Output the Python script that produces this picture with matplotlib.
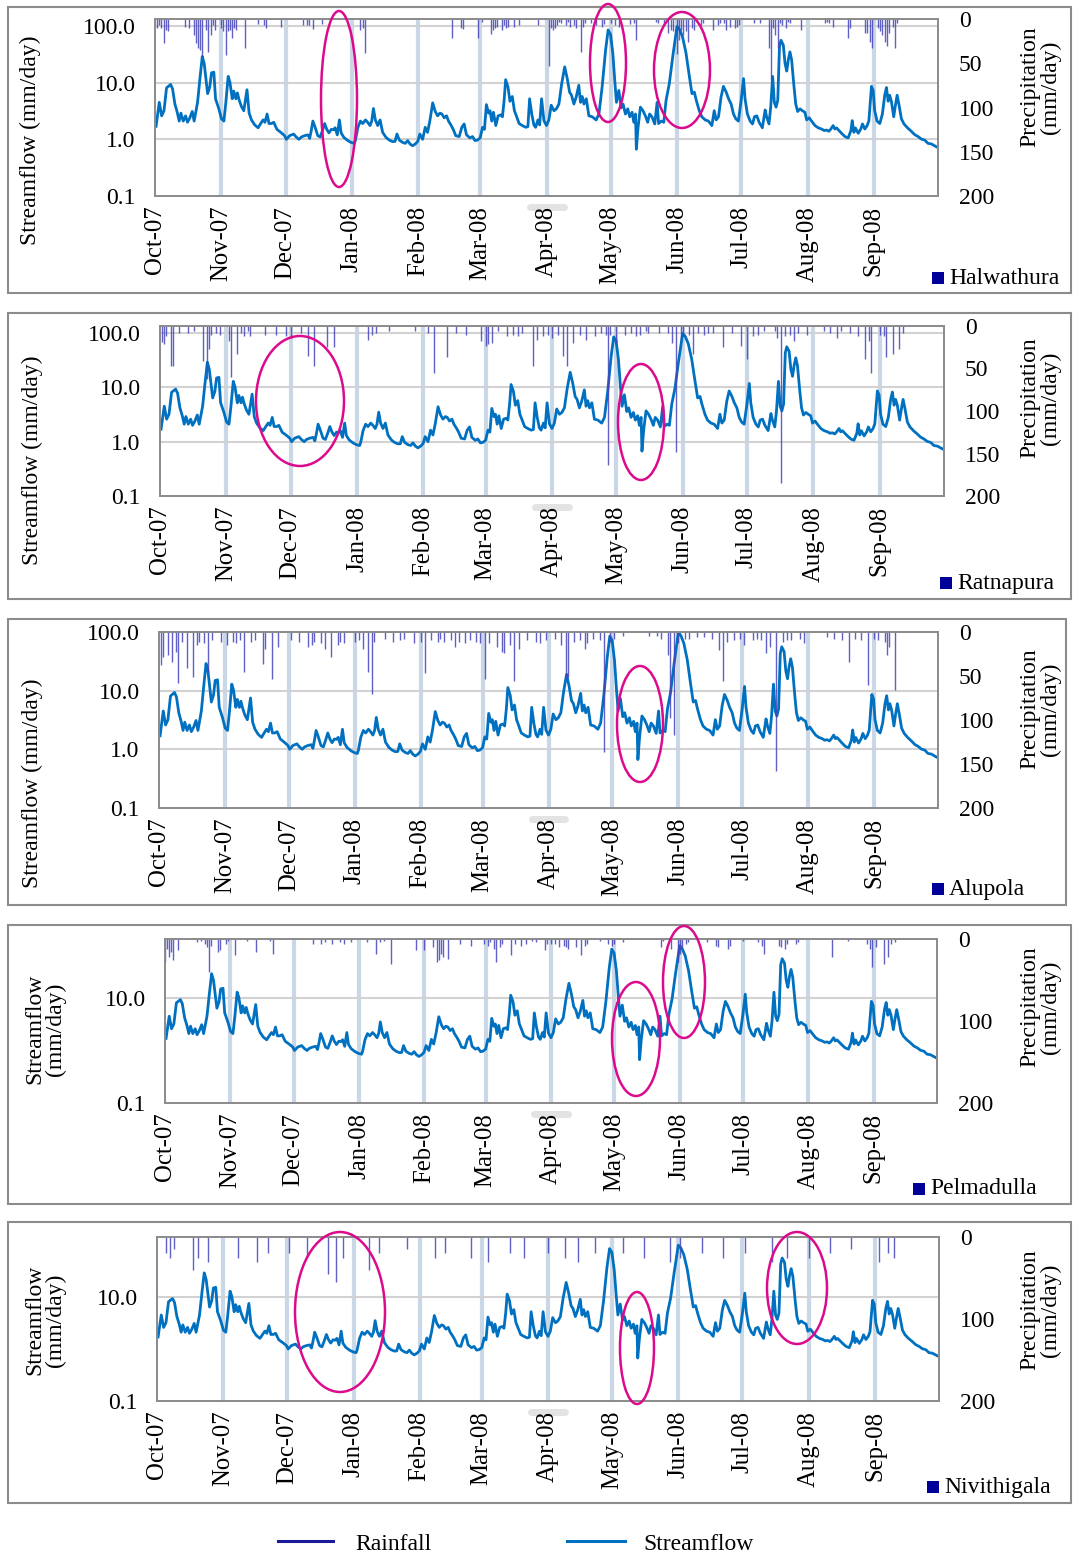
import numpy as np
import matplotlib
matplotlib.use('Agg')
import matplotlib.pyplot as plt
from matplotlib.patches import Ellipse, Rectangle
from matplotlib.lines import Line2D

plt.rcParams['font.family'] = ['Liberation Serif', 'DejaVu Serif']

W, H = 1073, 1559

# x axis: days since 1 Oct 2007
month_labels = ['Oct-07', 'Nov-07', 'Dec-07', 'Jan-08', 'Feb-08', 'Mar-08',
                'Apr-08', 'May-08', 'Jun-08', 'Jul-08', 'Aug-08', 'Sep-08']
month_start = [0, 31, 61, 92, 123, 152, 183, 213, 244, 274, 305, 336]

# daily streamflow (mm/day)
flow_day = [0.5, 2.0, 3.1, 4.2, 5.4, 7.3, 8.2, 9.3, 10.4, 11.3, 12.1, 13.2, 14.3, 15.2, 16.3, 17.4, 18.3,
            19.9, 21.0, 22.1, 23.0, 23.8, 24.6, 25.6, 26.4, 27.5, 28.3, 29.8, 31.1, 32.2, 33.1, 34.2, 35.0,
            36.1, 36.8, 37.8, 38.5, 39.3, 40.4, 41.5, 43.0, 44.0, 45.1, 46.6, 48.2, 49.4, 50.5, 51.4, 52.4,
            53.3, 54.4, 55.5, 57.0, 59.1, 60.6, 61.4, 62.9, 64.8, 66.0, 67.3, 68.4, 69.9, 71.5, 72.3, 73.0,
            73.8, 74.7, 76.1, 77.2, 78.2, 79.3, 80.3, 81.3, 82.4, 83.4, 84.2, 85.2, 86.2, 87.0, 88.3, 90.1,
            91.7, 93.2, 93.7, 94.8, 96.0, 97.1, 98.4, 99.4, 100.5, 101.3, 102.1, 103.0, 104.1, 105.2, 106.4,
            108.0, 109.5, 111.1, 112.2, 113.1, 114.2, 115.8, 117.0, 118.1, 119.2, 120.4, 121.7, 122.8, 123.8,
            125.1, 126.3, 127.4, 128.5, 129.8, 131.0, 132.1, 133.2, 134.1, 135.2, 136.3, 137.2, 138.3, 139.4,
            140.6, 142.2, 143.4, 144.5, 145.6, 147.2, 148.4, 149.6, 150.7, 152.0, 153.1, 154.0, 154.9, 155.9,
            156.6, 157.4, 158.2, 159.3, 160.4, 161.6, 162.4, 163.2, 163.9, 165.0, 165.9, 167.0, 168.0, 168.9,
            170.2, 171.7, 173.3, 174.3, 175.1, 176.1, 177.1, 177.9, 179.0, 179.8, 180.7, 181.8, 183.0, 184.1,
            185.2, 186.5, 187.6, 188.8, 190.1, 191.5, 192.7, 193.8, 194.7, 195.8, 196.9, 198.1, 198.9, 199.7,
            200.5, 201.6, 202.8, 204.4, 206.2, 207.5, 209.0, 210.6, 211.8, 212.9, 214.0, 214.9, 215.7, 216.8,
            217.9, 218.8, 219.9, 221.0, 221.9, 223.0, 223.8, 224.6, 225.0, 225.8, 226.9, 228.1, 229.2, 230.3,
            231.2, 232.3, 233.6, 234.7, 235.4, 236.7, 237.8, 238.9, 240.4, 242.0, 244.0, 245.2, 246.6, 248.2,
            249.7, 251.0, 252.1, 253.0, 254.4, 255.6, 257.2, 258.7, 260.3, 261.4, 262.3, 263.4, 264.6, 265.7,
            267.0, 268.1, 269.3, 270.4, 271.5, 272.7, 274.0, 275.1, 275.8, 276.9, 278.2, 279.3, 280.2, 281.3,
            282.4, 283.9, 285.2, 285.9, 287.0, 287.8, 288.7, 289.5, 290.3, 291.1, 291.9, 292.6, 293.7, 294.5,
            295.3, 296.0, 296.8, 297.6, 298.7, 299.5, 300.4, 301.5, 302.6, 303.8, 304.6, 305.8, 306.9, 308.5,
            310.0, 311.6, 312.8, 313.9, 315.0, 315.9, 317.0, 317.8, 318.6, 319.7, 320.9, 322.5, 324.0, 325.3,
            325.9, 326.7, 327.4, 328.7, 329.9, 330.7, 331.8, 332.9, 333.7, 334.9, 335.7, 336.4, 337.5, 338.8,
            340.0, 341.1, 341.9, 342.7, 343.4, 344.2, 345.3, 346.1, 346.9, 347.8, 348.9, 350.1, 351.7, 353.5,
            355.1, 356.7, 358.2, 359.8, 361.3, 362.9, 365.2]
flow_val = [1.7, 4.5, 2.6, 3.2, 8.1, 9.3, 7.8, 4.2, 3.0, 2.1, 2.9, 2.1, 2.6, 2.0, 2.4, 3.1, 2.1,
            4.5, 11.8, 29, 21.7, 11.8, 6.4, 8.4, 14.9, 15.3, 5.2, 3.5, 2.3, 2.1, 4.4, 12.9, 10.3,
            5.2, 7.1, 5.2, 6.6, 5.0, 3.8, 3.2, 7.5, 2.9, 2.2, 1.8, 1.6, 1.9, 2.2, 2.0, 2.8,
            1.9, 1.9, 2.0, 1.5, 1.3, 1.16, 1.0, 1.16, 1.24, 1.1, 1.0, 1.1, 1.16, 1.2, 1.04, 1.4,
            2.1, 1.7, 1.16, 1.1, 1.4, 1.9, 1.5, 1.3, 1.5, 1.48, 1.6, 1.2, 2.2, 1.3, 1.08, 0.95,
            0.88, 0.85, 0.97, 1.6, 2.1, 1.9, 2.2, 2.0, 1.75, 2.1, 3.5, 2.2, 1.75, 2.2, 1.33,
            1.08, 0.97, 0.91, 0.92, 1.24, 0.97, 0.88, 0.85, 0.95, 0.83, 0.77, 0.83, 0.92, 1.24,
            1.0, 1.63, 1.33, 2.14, 4.4, 3.1, 2.6, 2.9, 2.8, 2.4, 2.6, 2.1, 1.8, 1.5,
            1.16, 1.12, 1.63, 1.87, 1.2, 1.06, 1.12, 0.95, 0.97, 1.06, 1.63, 1.5, 4.1, 2.9,
            3.2, 2.1, 3.0, 1.75, 2.6, 2.7, 2.5, 4.9, 11.3, 8.4, 4.7, 5.7, 3.2, 2.6,
            1.9, 1.75, 1.63, 1.68, 5.2, 2.8, 1.8, 1.63, 2.2, 1.8, 5.2, 2.14, 1.75, 2.2,
            4.0, 3.2, 3.45, 4.2, 9.6, 19, 11.8, 6.8, 6.0, 4.2, 5.6, 9.0, 4.5, 5.7,
            4.2, 5.2, 2.6, 2.5, 2.2, 2.8, 8.4, 37, 85, 72, 33, 11, 4.5, 7.3,
            3.6, 4.2, 2.8, 3.45, 2.5, 3.0, 2.0, 2.8, 0.67, 1.63, 3.7, 3.2, 2.6, 2.0,
            2.8, 2.5, 1.87, 4.5, 1.9, 2.1, 2.0, 4.9, 9.6, 28.6, 99, 87, 64, 33.5,
            13.5, 6.4, 6.8, 4.9, 3.2, 2.5, 2.2, 2.1, 1.75, 3.2, 2.2, 2.5, 5.6, 8.6,
            6.8, 5.2, 4.2, 2.8, 2.3, 2.1, 4.9, 11.8, 5.2, 2.8, 2.1, 1.87, 2.5, 2.6,
            2.0, 1.6, 3.3, 2.5, 1.87, 3.7, 12.9, 4.5, 3.7, 4.9, 43, 56, 46, 21.7,
            16, 25, 35, 25, 8.4, 4.2, 3.1, 3.45, 3.2, 3.0, 2.2, 2.4, 2.1, 1.75,
            1.6, 1.52, 1.43, 1.46, 1.39, 1.52, 1.75, 1.52, 1.59, 1.43, 1.28, 1.12, 1.06, 1.43,
            2.14, 1.33, 1.59, 1.28, 1.52, 1.87, 1.52, 1.75, 2.14, 8.6, 7.3, 3.2, 2.1, 1.9,
            2.8, 6.0, 8.2, 4.7, 6.0, 4.7, 2.5, 4.0, 6.0, 4.0, 2.3, 1.87, 1.6, 1.39,
            1.21, 1.12, 1.01, 0.97, 0.85, 0.83, 0.74]

stations = ['Halwathura', 'Ratnapura', 'Alupola', 'Pelmadulla', 'Nivithigala']

# daily rainfall (mm/day) per station
rain_day_halwathura = [1, 2, 3, 4, 5, 6, 14, 16, 18, 19, 20, 21, 22, 24, 25, 26, 27, 28, 31, 32, 33, 34,
                       35, 36, 37, 38, 42, 48, 51, 52, 59, 69, 71, 72, 74, 78, 96, 97, 98, 139, 143, 144,
                       151, 153, 157, 158, 159, 160, 162, 163, 164, 165, 168, 170, 179, 184, 185, 186,
                       187, 188, 189, 190, 192, 193, 194, 196, 197, 199, 200, 201, 204, 206, 209, 210,
                       213, 215, 217, 222, 224, 225, 234, 235, 238, 240, 241, 242, 244, 245, 246, 247,
                       248, 249, 251, 252, 255, 256, 261, 263, 264, 266, 267, 269, 271, 272, 273, 280,
                       283, 287, 288, 289, 290, 291, 292, 293, 295, 296, 297, 302, 313, 314, 315, 317,
                       324, 325, 332, 333, 334, 335, 338, 339, 340, 341, 342, 343, 345, 346, 347]
rain_mm_halwathura = [10, 7, 10, 27, 12, 14, 9, 10, 18, 27, 33, 35, 42, 12, 37, 18, 7, 12, 10, 14, 41, 14,
                      12, 22, 10, 12, 33, 6, 7, 10, 9, 7, 7, 7, 11, 6, 12, 10, 38, 21, 10, 11,
                      21, 3, 17, 12, 10, 9, 12, 7, 10, 9, 9, 7, 7, 53, 10, 12,
                      10, 7, 3, 5, 7, 3, 9, 7, 10, 37, 9, 5, 5, 7, 9, 6,
                      5, 7, 9, 6, 5, 24, 3, 5, 7, 16, 12, 14, 39, 24, 12, 18,
                      14, 26, 10, 12, 7, 5, 12, 7, 5, 5, 12, 9, 10, 9, 7, 5,
                      5, 33, 69, 10, 18, 33, 5, 7, 10, 3, 5, 12, 4, 3, 4, 9,
                      22, 10, 16, 16, 26, 33, 10, 14, 18, 26, 31, 16, 9, 33, 5]

rain_day_ratnapura = [1, 2, 3, 5, 6, 9, 13, 16, 20, 22, 23, 24, 26, 28, 32, 33, 36, 38, 39, 41, 42, 49,
                      54, 59, 61, 66, 69, 72, 78, 81, 97, 99, 101, 107, 119, 125, 128, 134, 138, 143,
                      150, 152, 153, 155, 158, 162, 165, 167, 169, 174, 176, 179, 181, 183, 186, 188,
                      190, 193, 196, 199, 203, 206, 208, 209, 210, 213, 217, 220, 222, 224, 227, 228,
                      233, 237, 239, 241, 243, 244, 247, 249, 251, 254, 256, 258, 263, 267, 271, 274,
                      277, 279, 282, 287, 288, 290, 292, 294, 296, 298, 302, 310, 313, 316, 318, 322,
                      326, 329, 331, 332, 336, 338, 339, 342, 345, 347]
rain_mm_ratnapura = [19, 21, 12, 47, 47, 8, 8, 6, 41, 62, 27, 10, 8, 10, 18, 60, 33, 8, 12, 6, 12, 10,
                     10, 12, 14, 8, 35, 47, 25, 25, 16, 10, 8, 6, 6, 8, 55, 37, 8, 10,
                     18, 23, 21, 20, 6, 12, 10, 12, 8, 47, 16, 12, 10, 14, 10, 35,
                     47, 20, 10, 16, 12, 8, 10, 164, 10, 20, 10, 8, 12, 10, 6, 8,
                     8, 8, 20, 148, 16, 12, 10, 33, 8, 10, 8, 8, 25, 8, 23, 39,
                     12, 10, 6, 6, 14, 185, 12, 10, 18, 8, 10, 6, 8, 14, 6, 8,
                     12, 39, 18, 55, 10, 12, 37, 33, 27, 8]

rain_day_alupola = [1, 2, 4, 6, 8, 9, 11, 13, 16, 18, 19, 21, 23, 25, 29, 32, 35, 36, 38, 40, 43, 45,
                    49, 50, 53, 56, 62, 66, 70, 72, 73, 76, 78, 81, 84, 85, 87, 92, 94, 96, 98, 100,
                    101, 106, 110, 113, 115, 120, 123, 125, 128, 131, 132, 134, 137, 139, 141, 144,
                    146, 149, 151, 153, 155, 159, 161, 162, 165, 167, 169, 173, 177, 179, 182, 186,
                    189, 191, 192, 195, 198, 200, 201, 204, 207, 209, 212, 214, 218, 230, 234, 236,
                    239, 240, 242, 244, 247, 249, 253, 256, 260, 263, 265, 267, 270, 273, 275, 279,
                    281, 283, 285, 287, 290, 293, 295, 297, 301, 303, 314, 317, 321, 324, 327, 330,
                    333, 336, 338, 341, 342, 343, 346]
rain_mm_alupola = [38, 28, 26, 34, 23, 58, 11, 41, 51, 15, 11, 13, 45, 9, 11, 15, 11, 13, 9, 45, 11, 9,
                   36, 19, 53, 17, 9, 11, 17, 15, 11, 13, 19, 28, 15, 11, 13, 11, 9, 19, 45, 70,
                   11, 8, 11, 9, 8, 13, 11, 47, 9, 11, 8, 11, 9, 17, 11, 13,
                   9, 11, 13, 53, 13, 17, 23, 24, 15, 56, 19, 9, 11, 13, 9, 8,
                   15, 53, 51, 11, 9, 19, 13, 8, 9, 136, 11, 8, 4, 4, 4, 8,
                   26, 98, 117, 13, 8, 8, 6, 6, 8, 21, 56, 11, 9, 8, 15, 9,
                   8, 9, 24, 17, 158, 11, 9, 9, 8, 13, 6, 8, 9, 34, 8, 9,
                   60, 8, 9, 11, 26, 17, 66]

rain_day_pelmadulla = [0, 1, 2, 3, 4, 6, 15, 17, 19, 20, 21, 22, 25, 26, 29, 30, 33, 39, 43, 50, 51, 70,
                       74, 76, 79, 83, 85, 88, 96, 100, 102, 104, 107, 119, 123, 127, 129, 130, 131, 132,
                       134, 140, 145, 151, 153, 154, 156, 157, 159, 160, 164, 166, 169, 171, 174, 176,
                       180, 181, 183, 185, 187, 189, 190, 191, 195, 197, 199, 200, 206, 210, 212, 213,
                       217, 235, 236, 240, 243, 244, 245, 247, 248, 257, 261, 262, 267, 268, 274, 281,
                       283, 284, 291, 292, 294, 295, 299, 300, 316, 324, 333, 334, 335, 337, 341, 343,
                       344, 346]
rain_mm_pelmadulla = [28, 12, 22, 16, 26, 14, 4, 2, 6, 10, 40, 8, 16, 14, 6, 2, 20, 2, 16, 2, 18, 6,
                      6, 4, 6, 4, 6, 4, 4, 18, 4, 2, 30, 14, 14, 10, 28, 26, 18, 22,
                      24, 6, 8, 6, 8, 4, 12, 28, 10, 6, 20, 6, 8, 6, 2, 4,
                      14, 6, 6, 6, 10, 8, 10, 12, 10, 20, 8, 6, 2, 6, 8, 6,
                      4, 10, 2, 12, 28, 18, 10, 6, 4, 4, 8, 10, 12, 8, 2, 4,
                      8, 18, 8, 10, 12, 6, 6, 4, 22, 2, 6, 12, 34, 10, 30, 22,
                      6, 4]

rain_day_nivithigala = [4, 6, 8, 17, 19, 24, 38, 47, 52, 62, 70, 80, 84, 87, 99, 104, 117, 130, 135, 147,
                        155, 165, 172, 183, 191, 197, 205, 218, 228, 240, 245, 255, 265, 275, 288, 295,
                        305, 315, 325, 338, 342, 345]
rain_mm_nivithigala = [20, 25, 15, 40, 25, 30, 25, 30, 20, 20, 25, 45, 55, 25, 40, 20, 15, 25, 20, 25,
                       30, 20, 25, 20, 25, 30, 20, 20, 25, 30, 25, 20, 25, 20, 30, 25,
                       25, 20, 15, 30, 20, 25]

rain_days = [rain_day_halwathura, rain_day_ratnapura, rain_day_alupola,
             rain_day_pelmadulla, rain_day_nivithigala]
rain_mms = [rain_mm_halwathura, rain_mm_ratnapura, rain_mm_alupola,
            rain_mm_pelmadulla, rain_mm_nivithigala]

# layout in pixels: panel box, axes box (l, t, r, b), etc.
layout = [
    dict(box=(8, 7, 1071, 293), ax=(155, 19, 938, 196), ytop=133, two=False,
         ylab=(30, 140), rlab=(1040, 87), stn=(932, 278),
         ell=[(339, 99, 36, 176), (608, 63, 36, 118), (682, 70, 56, 116)]),
    dict(box=(8, 313, 1071, 599), ax=(160, 326, 944, 496), ytop=135, two=False,
         ylab=(32, 460), rlab=(1040, 398), stn=(940, 583),
         ell=[(300, 401, 88, 130), (641, 422, 46, 116)]),
    dict(box=(8, 619, 1066, 905), ax=(159, 632, 938, 808), ytop=100, two=False,
         ylab=(32, 783), rlab=(1040, 709), stn=(932, 889),
         ell=[(640, 724, 46, 116)]),
    dict(box=(8, 925, 1071, 1204), ax=(165, 939, 937, 1103), ytop=133, two=True,
         ylab=(45, 1029), rlab=(1040, 1007), stn=(913, 1189),
         ell=[(636, 1039, 48, 114), (684, 982, 42, 112)]),
    dict(box=(8, 1222, 1071, 1503), ax=(157, 1237, 939, 1401), ytop=142, two=True,
         ylab=(45, 1320), rlab=(1040, 1310), stn=(927, 1487),
         ell=[(340, 1312, 90, 160), (637, 1348, 34, 112), (797, 1288, 60, 112)]),
]

def fx(x):
    return x / W

def fy(y):
    return 1 - y / H

FS = 17
flow_col = '#0070c0'
rain_col = '#4444bb'
ell_col = '#dc0a8c'
frame_col = '#8c8c8c'

fig = plt.figure(figsize=(W / 100, H / 100), dpi=100)

for i, lay in enumerate(layout):
    bx0, by0, bx1, by1 = lay['box']
    fig.add_artist(Rectangle((fx(bx0), fy(by1)), (bx1 - bx0) / W, (by1 - by0) / H,
                             transform=fig.transFigure, fill=False, ec=frame_col, lw=1.5))
    l, t, r, b = lay['ax']
    ax = fig.add_axes([fx(l), fy(b), (r - l) / W, (b - t) / H])
    ax.set_xlim(0, 366)
    ax.set_yscale('log')
    ax.set_ylim(0.1, lay['ytop'])
    if lay['two']:
        yt, yl = [0.1, 10], ['0.1', '10.0']
    else:
        yt, yl = [0.1, 1, 10, 100], ['0.1', '1.0', '10.0', '100.0']
    ax.set_yticks(yt)
    ax.set_yticklabels(yl)
    ax.yaxis.set_minor_locator(matplotlib.ticker.NullLocator())
    ax.set_xticks(month_start)
    ax.set_xticklabels(month_labels, rotation=90)
    ax.tick_params(axis='y', length=0, pad=14, labelsize=FS)
    ax.tick_params(axis='x', length=0, pad=7, labelsize=17.8)
    for d in month_start[1:]:
        ax.axvline(d, color='#c9d7e6', lw=3, zorder=0)
    for v in yt[1:]:
        ax.axhline(v, color='#d2d2d2', lw=1.5, zorder=0)
    ax.plot(flow_day, flow_val, color=flow_col, lw=2.0, zorder=3)
    for s in ax.spines.values():
        s.set_color(frame_col)
        s.set_linewidth(1.3)

    ax2 = ax.twinx()
    ax2.set_ylim(200, 0)
    ax2.set_yticks([0, 100, 200] if lay['two'] else [0, 50, 100, 150, 200])
    ax2.tick_params(axis='y', length=0, pad=15, labelsize=FS)
    ax2.vlines(rain_days[i], 0, rain_mms[i], color=rain_col, lw=1.0, alpha=0.85)
    for s in ax2.spines.values():
        s.set_color(frame_col)
        s.set_linewidth(1.3)

    # axis titles
    yx, yy = lay['ylab']
    ylab = 'Streamflow\n(mm/day)' if lay['two'] else 'Streamflow (mm/day)'
    fig.text(fx(yx), fy(yy), ylab, rotation=90, ha='center', va='center',
             fontsize=FS, linespacing=1.0)
    rx, ry = lay['rlab']
    fig.text(fx(rx), fy(ry), 'Precipitation\n(mm/day)', rotation=90, ha='center',
             va='center', fontsize=FS, linespacing=1.0)

    # station tag
    sx, sy = lay['stn']
    fig.add_artist(Rectangle((fx(sx), fy(sy + 6)), 12 / W, 12 / H, transform=fig.transFigure,
                             fc='#000099', ec='none'))
    fig.text(fx(sx + 17), fy(sy), stations[i], ha='left', va='center', fontsize=FS)

    # faint smudge just below the plot area near Apr-08
    apr_x = l + (r - l) * 183 / 366
    fig.add_artist(Line2D([fx(apr_x - 17), fx(apr_x + 17)], [fy(b + 11), fy(b + 11)],
                          transform=fig.transFigure, color='#dcdcdc', lw=5, alpha=0.8,
                          solid_capstyle='round', zorder=-1))

    for cx, cy, ew, eh in lay['ell']:
        fig.add_artist(Ellipse((fx(cx), fy(cy)), ew / W, eh / H, transform=fig.transFigure,
                               fill=False, ec=ell_col, lw=1.8, zorder=10))

# legend
fig.add_artist(Line2D([fx(278), fx(333)], [fy(1541), fy(1541)], transform=fig.transFigure,
                      color='#1a1a99', lw=2.2))
fig.text(fx(355), fy(1545), 'Rainfall', ha='left', va='center', fontsize=FS)
fig.add_artist(Line2D([fx(567), fx(625)], [fy(1541), fy(1541)], transform=fig.transFigure,
                      color=flow_col, lw=2.2))
fig.text(fx(643), fy(1545), 'Streamflow', ha='left', va='center', fontsize=FS)

fig.savefig('out.png', dpi=100)
